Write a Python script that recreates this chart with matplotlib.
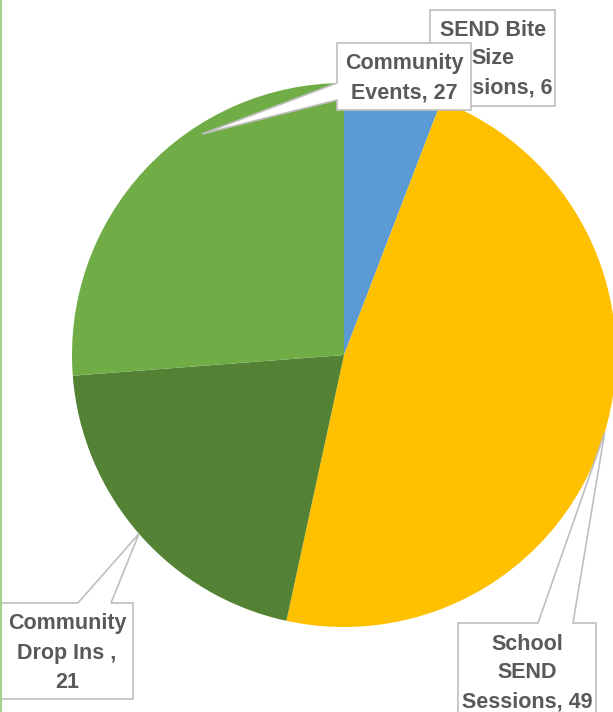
import numpy as np
import matplotlib.pyplot as plt
from matplotlib.patches import Polygon

# data
labels = ['SEND Bite\nSize\nSessions, 6', 'School\nSEND\nSessions, 49',
          'Community\nDrop Ins ,\n21', 'Community\nEvents, 27']
values = [6, 49, 21, 27]
colors = ['#5B9BD5', '#FFC000', '#548235', '#70AD47']

W, H = 613, 712

def px(x, y):
    # pixel coords (y down) -> data coords (y up)
    return (x, H - y)

fig = plt.figure(figsize=(W / 100, H / 100), dpi=100)
ax = fig.add_axes([0, 0, 1, 1])

cx, cy, r = 344, 355, 272
wedges, _ = ax.pie(values, colors=colors, startangle=90, counterclock=False,
                   center=px(cx, cy), radius=r, wedgeprops=dict(linewidth=0))

def edge_point(w, frac=1.0):
    mid = np.deg2rad((w.theta1 + w.theta2) / 2)
    x, y = w.center
    return (x + frac * w.r * np.cos(mid), y + frac * w.r * np.sin(mid))

# callout boxes: (x0, y0, x1, y1) in pixels, pointer side/base, text center
boxes = [
    dict(i=0, box=(430, 10, 555, 106), ptr=None, txt=(493, 59)),
    dict(i=3, box=(337, 43, 471, 110), ptr=('left', 83, 100), tip=px(202, 134), txt=(404, 78)),
    dict(i=2, box=(-2, 603, 133, 699), ptr=('top', 78, 111), txt=(67, 653)),
    dict(i=1, box=(458, 623, 596, 730), ptr=('top', 538, 573), txt=(527, 673)),
]

for k, b in enumerate(boxes):
    x0, y0, x1, y1 = b['box']
    pts = [px(x0, y0)]
    p = b['ptr']
    if p is not None:
        tip = b.get('tip', edge_point(wedges[b['i']]))
    if p is not None and p[0] == 'top':
        pts += [px(p[1], y0), tip, px(p[2], y0)]
    pts += [px(x1, y0), px(x1, y1), px(x0, y1)]
    if p is not None and p[0] == 'left':
        pts += [px(x0, p[2]), tip, px(x0, p[1])]
    ax.add_patch(Polygon(pts, closed=True, facecolor='white', edgecolor='#BFBFBF',
                         linewidth=1.2, zorder=3 + 2 * k))
    tx, ty = b['txt']
    ax.text(tx, H - ty, labels[b['i']], ha='center', va='center', fontsize=15.5,
            fontweight='bold', color='#595959', family=['Liberation Sans', 'DejaVu Sans'],
            linespacing=1.5, zorder=4 + 2 * k)

# left border line
ax.plot([1, 1], [0, H], color='#A9D18E', linewidth=1.5, zorder=20)

ax.set_xlim(0, W)
ax.set_ylim(0, H)
ax.set_aspect('equal')
ax.axis('off')

plt.savefig('out.png', dpi=100)
